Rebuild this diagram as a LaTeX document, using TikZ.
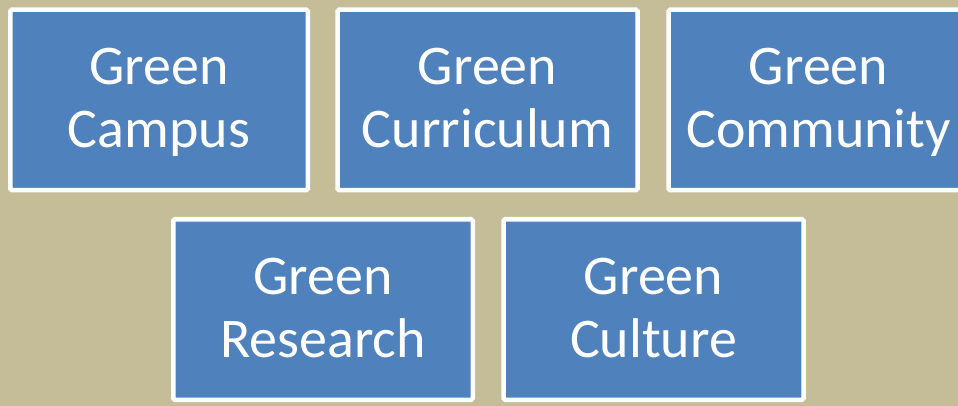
\documentclass[tikz,border=0pt]{standalone}
\usepackage{fontspec}
\setmainfont{Carlito}
\definecolor{tanbg}{HTML}{C4BD97}
\definecolor{boxblue}{HTML}{4F81BD}
% two-line box label with fixed line height and depth
\newcommand{\twoline}[2]{\rule{0pt}{42pt}#1\\#2\vphantom{Cp}}
\begin{document}
\begin{tikzpicture}[x=1pt,y=-1pt,
  greenbox/.style={draw=white, line width=4.5pt, fill=boxblue, rounded corners=1.5pt,
    minimum width=300pt, minimum height=180.5pt, inner sep=0pt, align=center,
    text=white, font=\fontsize{56}{63}\selectfont}]
  \fill[tanbg] (0,0) rectangle (958,406);
  \useasboundingbox (0,0) rectangle (958,406);
  \begin{scope}
    \clip (0,0) rectangle (958,406);
    \node[greenbox, minimum width=297.5pt] (campus) at (159,100) {\twoline{Green}{Campus}};
    \node[greenbox] (curriculum) at (487.5,100) {\twoline{Green}{Curriculum}};
    \node[greenbox] (community) at (818.5,100) {\twoline{Green}{Community}};
    \node[greenbox, minimum width=299.5pt] (research) at (323,309.5) {\twoline{Green}{Research}};
    \node[greenbox] (culture) at (653.5,309.5) {\twoline{Green}{Culture}};
  \end{scope}
\end{tikzpicture}
\end{document}
